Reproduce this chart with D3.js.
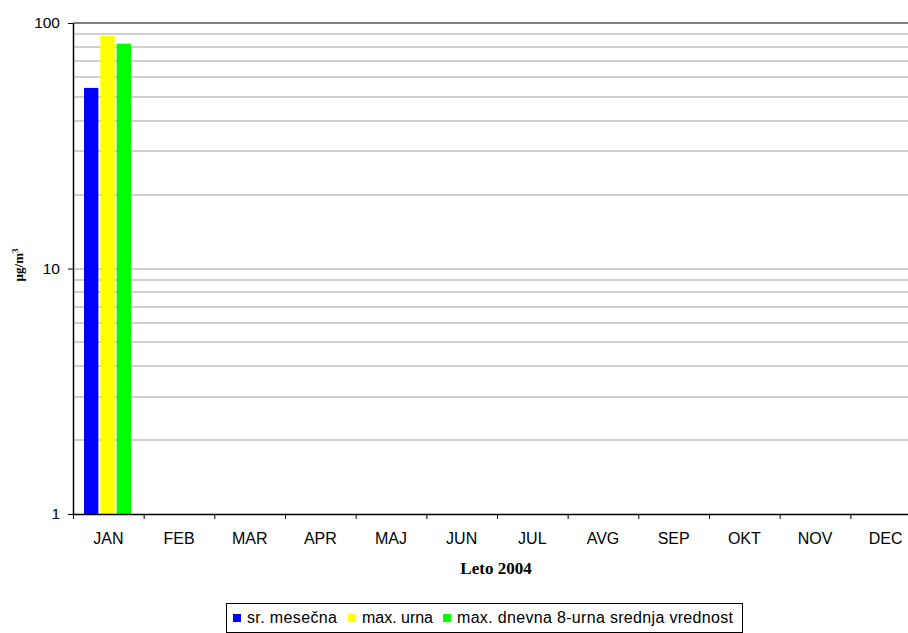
<!DOCTYPE html>
<html>
<head>
<meta charset="utf-8">
<script src="https://cdn.jsdelivr.net/npm/d3@7"></script>
<style>
  body { margin: 0; background: #fff; }
  svg { display: block; }
</style>
</head>
<body>
<div id="chart"></div>
<script>
const months = ['JAN', 'FEB', 'MAR', 'APR', 'MAJ', 'JUN', 'JUL', 'AVG', 'SEP', 'OKT', 'NOV', 'DEC'];
const seriesNames = ['sr. mesečna', 'max. urna', 'max. dnevna 8-urna srednja vrednost'];
const seriesColors = ['#0000ff', '#ffff00', '#00ff00'];
// only January has values
const srMesecna = [54.4, null, null, null, null, null, null, null, null, null, null, null];
const maxUrna = [88.5, null, null, null, null, null, null, null, null, null, null, null];
const maxDnevna8 = [82.4, null, null, null, null, null, null, null, null, null, null, null];
const yTicks = [1, 10, 100];

const series = [srMesecna, maxUrna, maxDnevna8];

const W = 908, H = 633;
const margin = { top: 23, left: 73, bottom: 119 };
const plotW = 848; // plot runs past the right edge of the picture
const plotH = H - margin.top - margin.bottom;
const sans = '"Liberation Sans", Arial, sans-serif';
const serif = '"Liberation Serif", "Times New Roman", serif';

const svg = d3.select('#chart').append('svg')
  .attr('width', W)
  .attr('height', H);

const g = svg.append('g')
  .attr('transform', `translate(${margin.left},${margin.top})`);

const x = d3.scaleBand().domain(months).range([0, plotW]);
const y = d3.scaleLog().domain([1, 100]).range([plotH, 0]);

// minor gridlines
const gridVals = [];
for (let d = 1; d <= 10; d *= 10) {
  for (let k = 2; k <= 10; k++) gridVals.push(k * d);
}
g.append('g').selectAll('line')
  .data(gridVals)
  .join('line')
  .attr('x1', 0)
  .attr('x2', plotW)
  .attr('y1', d => Math.round(y(d)))
  .attr('y2', d => Math.round(y(d)))
  .style('stroke', d => d === 100 ? '#808080' : '#c0c0c0')
  .style('stroke-width', d => d === 100 ? 2 : 1.5);

// bars
const inner = d3.scaleBand().domain(d3.range(series.length)).range([11, 58]).paddingInner(0.12);
series.forEach((vals, si) => {
  g.append('g').selectAll('rect')
    .data(months.map((m, i) => ({ m, v: vals[i] })).filter(d => d.v != null))
    .join('rect')
    .attr('x', d => x(d.m) + inner(si))
    .attr('width', inner.bandwidth())
    .attr('y', d => y(d.v))
    .attr('height', d => plotH - y(d.v))
    .style('fill', seriesColors[si]);
});

// y axis
const yAxis = g.append('g')
  .call(d3.axisLeft(y).tickValues(yTicks).tickFormat(d3.format('d')).tickSize(5).tickSizeOuter(0));
yAxis.select('.domain').style('stroke', '#000').style('stroke-width', 1.5);
yAxis.selectAll('.tick line').style('stroke', '#000');
yAxis.selectAll('.tick text')
  .attr('x', -13)
  .style('font-family', sans)
  .style('font-size', '15.5px')
  .style('fill', '#000');

// x axis
const xAxis = g.append('g')
  .attr('transform', `translate(0,${plotH})`)
  .call(d3.axisBottom(x).tickSize(0).tickSizeOuter(0));
xAxis.select('.domain').style('stroke', '#000').style('stroke-width', 1.5);
xAxis.selectAll('.tick text')
  .attr('dy', 0)
  .attr('y', 30)
  .style('font-family', sans)
  .style('font-size', '16px')
  .style('fill', '#000');
xAxis.selectAll('.sep')
  .data(months)
  .join('line')
  .attr('class', 'sep')
  .attr('x1', d => x(d) + 0.5)
  .attr('x2', d => x(d) + 0.5)
  .attr('y1', 0)
  .attr('y2', 5)
  .style('stroke', '#000');

// axis titles
svg.append('text')
  .attr('transform', 'translate(23,265) rotate(-90)')
  .attr('text-anchor', 'middle')
  .style('font-family', serif)
  .style('font-weight', 'bold')
  .style('font-size', '13px')
  .html('µg/m<tspan dy="-5" font-size="9px">3</tspan>');

svg.append('text')
  .attr('x', 496)
  .attr('y', 574)
  .attr('text-anchor', 'middle')
  .style('font-family', serif)
  .style('font-weight', 'bold')
  .style('font-size', '17px')
  .text('Leto 2004');

// legend
const legend = svg.append('g').attr('transform', 'translate(226,603)');
legend.append('rect')
  .attr('x', 0.5).attr('y', 0.5)
  .attr('width', 516).attr('height', 29)
  .style('fill', '#fff')
  .style('stroke', '#000');

const itemX = [7, 122, 217];
const textW = [90, 71, 276];
seriesNames.forEach((name, i) => {
  const it = legend.append('g').attr('transform', `translate(${itemX[i]},0)`);
  it.append('rect')
    .attr('x', 0).attr('y', 11)
    .attr('width', 8).attr('height', 8)
    .style('fill', seriesColors[i]);
  it.append('text')
    .attr('x', 14).attr('y', 20)
    .attr('textLength', textW[i])
    .attr('lengthAdjust', 'spacing')
    .style('font-family', sans)
    .style('font-size', '16px')
    .text(name);
});
</script>
</body>
</html>
